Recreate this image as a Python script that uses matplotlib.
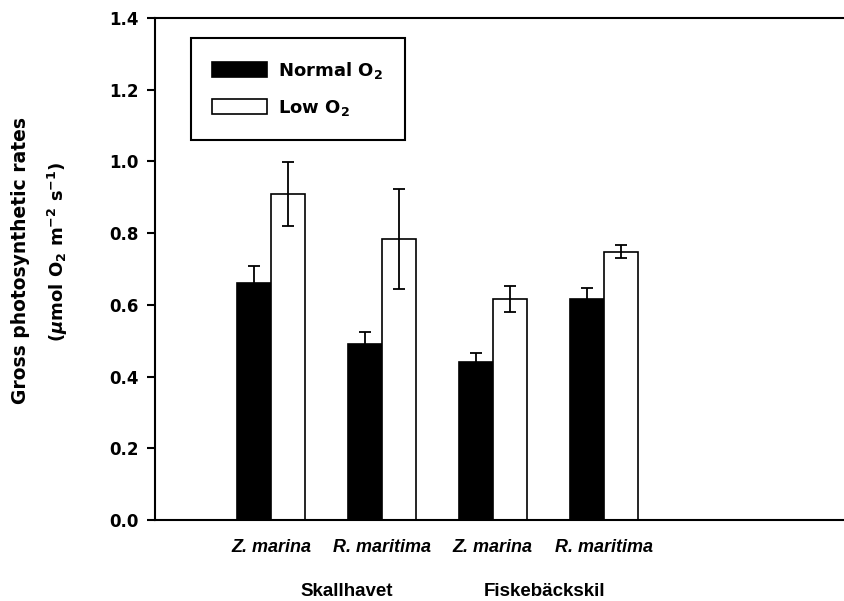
import numpy as np
import matplotlib
matplotlib.use("Agg")
import matplotlib.pyplot as plt

plt.rcParams['font.family'] = ['Liberation Sans', 'DejaVu Sans']
plt.rcParams['font.weight'] = 'bold'
plt.rcParams['mathtext.fontset'] = 'custom'
plt.rcParams['mathtext.rm'] = 'DejaVu Sans:bold'
plt.rcParams['mathtext.bf'] = 'DejaVu Sans:bold'
plt.rcParams['mathtext.it'] = 'DejaVu Sans:italic:bold'

# data
species = ['Z. marina', 'R. maritima', 'Z. marina', 'R. maritima']
sites = ['Skallhavet', 'Fiskebäckskil']
normal_o2 = [0.662, 0.491, 0.440, 0.617]
normal_err = [0.047, 0.034, 0.027, 0.029]
low_o2 = [0.910, 0.784, 0.616, 0.748]
low_err = [0.089, 0.139, 0.036, 0.018]

wide = 'DejaVu Sans'

fig = plt.figure(figsize=(8.44, 6.01), dpi=100)
ax = fig.add_axes([155/844, 1 - 520/601, 1 - 155/844, 502/601])

x = np.arange(len(species))
w = 0.307

ax.bar(x - w/2, normal_o2, w, color='black', edgecolor='black', linewidth=1.2,
       yerr=normal_err, error_kw=dict(ecolor='black', elinewidth=1.3, capsize=4.3, capthick=1.3),
       label='Normal O$_{2}$')
ax.bar(x + w/2, low_o2, w, color='white', edgecolor='black', linewidth=1.2,
       yerr=low_err, error_kw=dict(ecolor='black', elinewidth=1.3, capsize=4.3, capthick=1.3),
       label='Low O$_{2}$')

ax.set_xlim(-1.05, 5.17)
ax.set_ylim(0, 1.4)
yt = np.arange(0, 1.41, 0.2)
ax.set_yticks(yt)
ax.set_yticklabels([f'{v:.1f}' for v in yt], fontsize=12, fontweight='bold', family=wide)
ax.set_xticks(x)
ax.set_xticklabels(species, fontsize=13, fontstyle='italic', fontweight='bold')
ax.tick_params(axis='x', length=0, pad=14)
ax.tick_params(axis='y', direction='out', length=6, width=1.5, pad=6)

ax.spines['right'].set_visible(False)
for s in ['left', 'top', 'bottom']:
    ax.spines[s].set_linewidth(1.5)

# site labels below the species names
site_x = [(347 - 271.3) / 110.7, (544 - 271.3) / 110.7]
for sx, name in zip(site_x, sites):
    ax.text(sx, -0.143, name, transform=ax.get_xaxis_transform(), ha='center', va='center',
            fontsize=13.5, fontweight='bold')

# two-line y label
fig.text(20.5/844, 1 - 260/601, 'Gross photosynthetic rates', rotation=90,
         ha='center', va='center', fontsize=13.5, fontweight='bold', family=wide)
fig.text(58/844, 1 - 252/601, '($\\mu$mol O$_{2}$ m$^{-2}$ s$^{-1}$)', rotation=90,
         ha='center', va='center', fontsize=13, fontweight='bold', family=wide)

leg = ax.legend(loc='upper left', bbox_to_anchor=(0.0518, 0.9596), borderaxespad=0,
                prop=dict(family=wide, weight='bold', size=13), frameon=True,
                fancybox=False, edgecolor='black',
                handlelength=3.0, handleheight=0.89, handletextpad=0.65,
                labelspacing=0.95, borderpad=1.2)
leg.get_frame().set_linewidth(1.5)
leg.get_frame().set_alpha(1)

fig.savefig('out.png', dpi=100)
